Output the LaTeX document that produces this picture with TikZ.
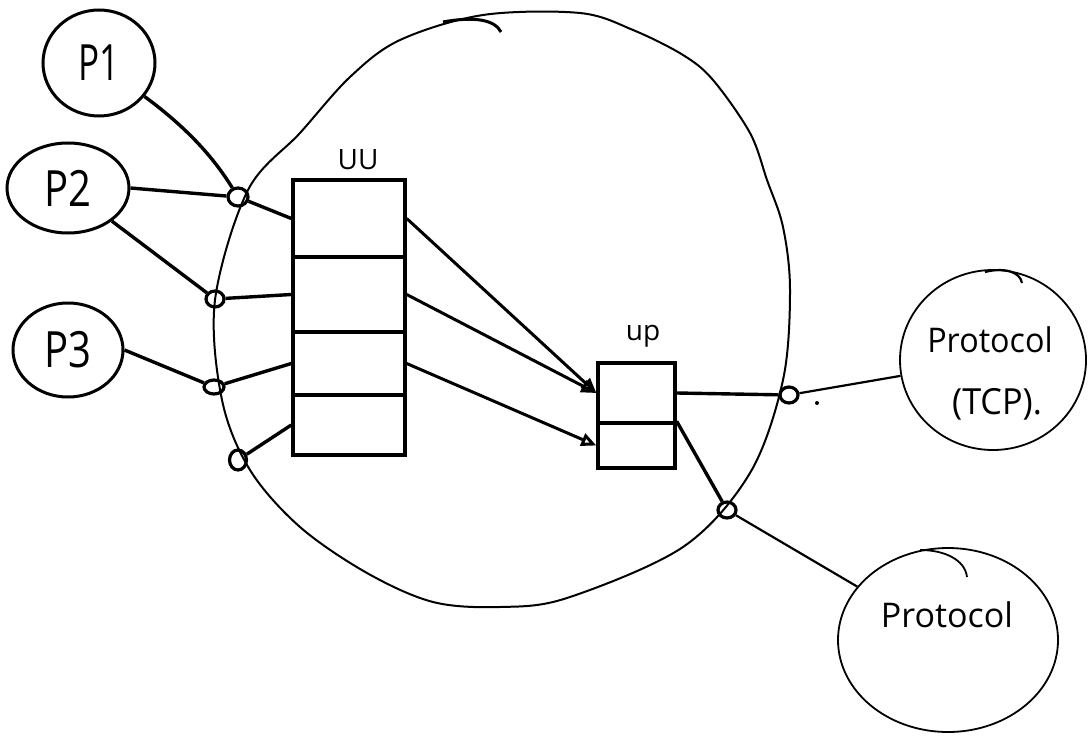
\documentclass[tikz,border=0pt]{standalone}
\usepackage{graphicx}
\usepackage{fontspec}
\setmainfont{Open Sans}
\usetikzlibrary{shapes.geometric,arrows.meta}
\begin{document}
\begin{tikzpicture}[x=1pt,y=-1pt,
  pc/.style={draw, ellipse, line width=3pt, inner sep=0pt},
  proto/.style={draw, ellipse, line width=1.8pt, inner sep=0pt},
  sock/.style={draw, ellipse, line width=3.2pt, minimum width=18pt, minimum height=16pt, inner sep=0pt},
  comp/.style={draw, rectangle, line width=3.4pt, inner sep=0pt},
  wire/.style={line width=3.4pt},
  thinwire/.style={line width=2.2pt},
  arr/.style={line width=3pt, -{Triangle[open, length=15pt, width=13pt, line width=3pt]}},
  bigc/.style={line width=2pt},
  bigtxt/.style={font=\fontsize{50}{60}\selectfont},
  midtxt/.style={font=\fontsize{28}{32}\selectfont},
  ptxt/.style={font=\fontsize{34}{40}\selectfont},
]
\useasboundingbox (0,0) rectangle (1091,738);

% big enclosing circle
\draw[bigc] plot[smooth cycle, tension=0.55] coordinates {
 (580,13) (633,30) (683,55) (713,80) (750,133) (767,180) (783,227) (790,290)
 (783,380) (750,473) (683,547)
 (567,598) (500,607) (433,602) (367,573) (300,527) (250,470) (222,400)
 (215,300) (248,190) (300,133) (350,77) (400,40) (483,15)};
\draw[line width=3pt] (443,22) .. controls (475,16) and (495,20) .. (501,32);

% processes
\node[pc, minimum width=112pt, minimum height=106pt, bigtxt] (p1) at (99,63) {\scalebox{0.7}[1]{P1}};
\node[pc, minimum width=122pt, minimum height=90pt, bigtxt] (p2) at (68,188) {\scalebox{0.8}[1]{P2}};
\node[pc, minimum width=110pt, minimum height=94pt, bigtxt] (p3) at (68,350) {\scalebox{0.8}[1]{P3}};

% UU box
\node[comp, minimum width=112pt, minimum height=77pt] (uu1) at (349,218.5) {};
\node[comp, minimum width=112pt, minimum height=75pt] (uu2) at (349,294.5) {};
\node[comp, minimum width=112pt, minimum height=63pt] (uu3) at (349,363.5) {};
\node[comp, minimum width=112pt, minimum height=60pt] (uu4) at (349,425) {};
\node[midtxt] (uulab) at (358,160) {UU};

% up box
\node[comp, minimum width=77pt, minimum height=60pt] (up1) at (636.5,393) {};
\node[comp, minimum width=77pt, minimum height=45pt] (up2) at (636.5,445.5) {};
\node[midtxt] (uplab) at (643,336) {up};

% protocols
\node[proto, minimum width=186pt, minimum height=180pt] (tcp) at (993,360) {};
\node[ptxt] (tcpl1) at (990,340) {\scalebox{0.95}[1]{Protocol}};
\node[font=\fontsize{36}{40}\selectfont] (tcpl2) at (997,404) {\scalebox{0.95}[1]{(TCP).}};
\draw[line width=2.2pt] (985,272) .. controls (1005,267) and (1020,272) .. (1022,283);

\node[proto, minimum width=220pt, minimum height=184pt] (prot) at (948,640) {};
\node[ptxt] (protl) at (947,615) {Protocol};
\draw[line width=1.8pt] (920,550) .. controls (945,550) and (965,560) .. (967,577);

% sockets
\node[sock, minimum width=20pt, minimum height=18pt] (s1) at (238,197) {};
\node[sock] (s2) at (215,299) {};
\node[sock, minimum width=20pt, minimum height=14pt] (s3) at (214,387) {};
\node[sock, minimum width=17pt, minimum height=20pt] (s4) at (238,460) {};
\node[sock] (s5) at (789,395) {};
\node[sock] (s6) at (727,510) {};
\fill (817,403) circle (2pt);

% wires
\draw[wire] (p1) .. controls (190,130) and (215,160) .. (s1);
\draw[wire] (p2.east) -- (s1);
\draw[wire] (s1) -- (uu1.west);
\draw[wire] (p2) -- (s2);
\draw[wire] (s2) -- (uu2.west);
\draw[wire] (p3.east) -- (s3);
\draw[wire] (s3) -- (uu3.west);
\draw[wire] (s4) -- (uu4.west);

% arrows into up
\draw[arr] (uu1.east) -- (up1.west);
\draw[arr] (uu2.east) -- (up1.west);
\draw[arr] (uu3.east) -- (up2.west);

% up to protocols
\draw[wire] (up1.east) -- (s5);
\draw[thinwire] (s5) -- (tcp);
\draw[wire] (up2.north east) -- (s6);
\draw[thinwire] (s6) -- (prot);
\end{tikzpicture}
\end{document}
